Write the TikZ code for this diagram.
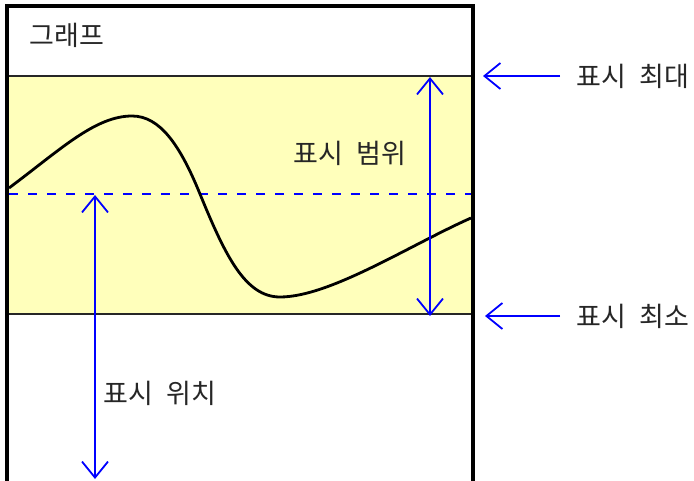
\documentclass[tikz,border=0pt]{standalone}
\usepackage{fontspec}
\newfontfamily\kr[WordSpace=2.2]{Noto Sans CJK KR}
\usetikzlibrary{arrows.meta}
\definecolor{rangeyellow}{RGB}{255,255,187}
\definecolor{arrowblue}{RGB}{0,0,255}
\begin{document}
\begin{tikzpicture}[x=1pt,y=-1pt,
  >={Straight Barb[length=16pt,width=26pt,line width=1.8pt]},
  lbl/.style={font=\kr\fontsize{27}{27}\selectfont, text=black!85, inner sep=0pt},
  barrow/.style={draw=arrowblue, line width=1.8pt},
  frame/.style={draw=black, line width=3.5pt},
  curve/.style={draw=black, line width=2.8pt}]
\useasboundingbox (0,0) rectangle (694,481);
% display range band
\fill[rangeyellow] (7,76) rectangle (473,314);
\draw[line width=1.2pt, black!85] (7,76) -- (473,76);
\draw[line width=1.2pt, black!85] (7,314) -- (473,314);
% dashed position line
\coordinate (dl) at (9,194);
\coordinate (dr) at (471,194);
\draw[arrowblue, line width=2.6pt, dash pattern=on 9pt off 10pt] (dl) -- (dr);
% graph curve
\draw[curve] (9,188) .. controls (60,150) and (95,116) .. (132,116)
  .. controls (160,116) and (180,145) .. (200,194)
  .. controls (225,255) and (245,297) .. (280,297)
  .. controls (330,297) and (410,245) .. (471,218);
% frame
\draw[frame] (7,481) -- (7,6) -- (473,6) -- (473,481);
% labels
\node[lbl] (graph) at (67,35) {그래프};
\node[lbl, anchor=west] (tmax) at (576,76) {표시 최대};
\node[lbl, anchor=west] (tmin) at (576,316) {표시 최소};
\node[lbl] (trange) at (350,153) {표시 범위};
\node[lbl] (tpos) at (160,393) {표시 위치};
% arrows
\coordinate (maxtail) at (560,76);
\coordinate (maxtip) at (483,76);
\draw[barrow, ->] (maxtail) -- (maxtip);
\coordinate (mintail) at (560,316);
\coordinate (mintip) at (485,316);
\draw[barrow, ->] (mintail) -- (mintip);
\coordinate (rtop) at (430,77);
\coordinate (rbot) at (430,316);
\draw[barrow, <->] (rtop) -- (rbot);
\coordinate (ptop) at (95,195);
\coordinate (pbot) at (95,479);
\draw[barrow, <->] (ptop) -- (pbot);
\end{tikzpicture}
\end{document}
